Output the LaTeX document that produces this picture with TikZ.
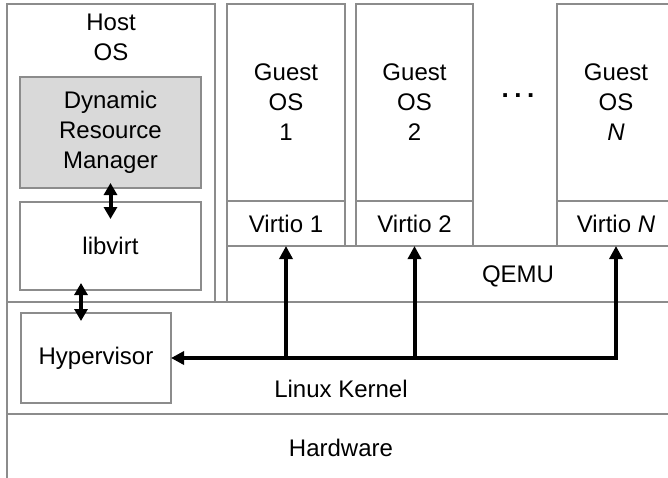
\documentclass[tikz,border=0pt]{standalone}
\usepackage{fontspec}
\setmainfont{Liberation Sans}
\usetikzlibrary{arrows.meta,calc}
\definecolor{boxline}{RGB}{140,140,140}
\definecolor{drmfill}{RGB}{217,217,217}

\begin{document}
\begin{tikzpicture}[x=1pt, y=-1pt,
	box/.style={draw=boxline, line width=2pt, inner sep=0pt, outer sep=0pt, anchor=north west, align=center, font=\fontsize{24}{30}\selectfont},
	lbl/.style={align=center, inner sep=0pt, font=\fontsize{24}{30}\selectfont},
	bus/.style={line width=4pt, -{Triangle[width=13pt,length=13pt]}},
	dbl/.style={line width=4pt, {Triangle[width=13pt,length=12pt]}-{Triangle[width=13pt,length=12pt]}}]
			%%%%% START %%%%%
			\useasboundingbox (0,0) rectangle (668,477);
			
			% host side
			\node[box, minimum width=208pt, minimum height=298pt] (host) at (7,4) {};
			\node[lbl] (hosttxt) at (111,37) {Host\\OS};
			\node[box, fill=drmfill, minimum width=181pt, minimum height=111pt] (drm) at (20,77) {Dynamic\\Resource\\Manager};
			\node[box, minimum width=181pt, minimum height=88pt] (libvirt) at (20,202) {libvirt};
			
			% guests
			\node[box, minimum width=118pt, minimum height=197pt] (g1) at (227,4) {Guest\\OS\\1};
			\node[box, minimum width=118pt, minimum height=45pt] (v1) at (227,201) {Virtio 1};
			\node[box, minimum width=117pt, minimum height=197pt] (g2) at (356,4) {Guest\\OS\\2};
			\node[box, minimum width=117pt, minimum height=45pt] (v2) at (356,201) {Virtio 2};
			\node[lbl, font=\fontsize{26}{30}\selectfont\bfseries] (dots) at (518,96) {.\kern5.5pt.\kern5.5pt.};
			\node[box, minimum width=118pt, minimum height=197pt] (gN) at (557,4) {Guest\\OS\\\textit{N}};
			\node[box, minimum width=118pt, minimum height=45pt] (vN) at (557,201) {Virtio \textit{N}};
			
			\node[box, minimum width=448pt, minimum height=56pt] (qemu) at (227,246) {};
			\node[lbl] (qemutxt) at (518,276) {QEMU};
			
			% kernel and hardware
			\node[box, minimum width=668pt, minimum height=112pt] (kernel) at (7,302) {};
			\node[lbl] (kerneltxt) at (341,389) {Linux Kernel};
			\node[box, minimum width=150pt, minimum height=90pt] (hyp) at (21,313) {Hypervisor};
			\node[box, minimum width=668pt, minimum height=90pt] (hw) at (7,414) {};
			\node[lbl] (hwtxt) at (341,448) {Hardware};
			
			% arrows
			\draw[dbl] ($(drm.south)+(0,-5)$) -- ($(libvirt.north)+(0,17)$);
			\draw[dbl] ($(libvirt.south west)+(61,-7)$) -- ($(hyp.north west)+(60,8)$);
			\draw[dbl, {Triangle[width=13pt,length=13pt]}-{Triangle[width=13pt,length=13pt]}] (vN.south) -- (vN.south |- hyp.east) -- (hyp.east);
			\draw[bus] (v1.south |- hyp.east) -- (v1.south);
			\draw[bus] (v2.south |- hyp.east) -- (v2.south);
			%%%%% END %%%%%
\end{tikzpicture}
\end{document}
